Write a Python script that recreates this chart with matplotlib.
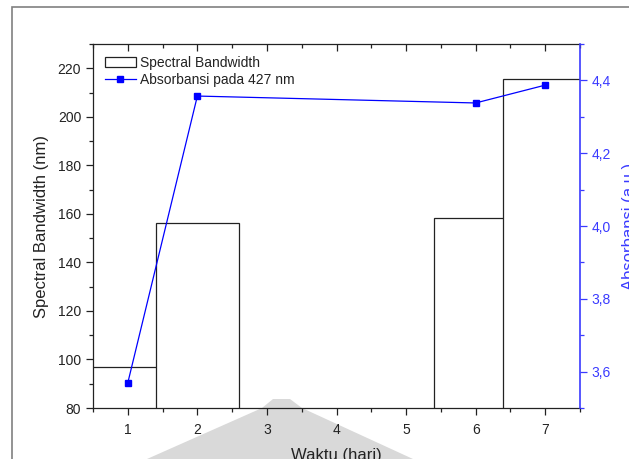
import matplotlib
matplotlib.use("Agg")
import matplotlib.pyplot as plt
from matplotlib.patches import Patch, Polygon, Rectangle
from matplotlib.lines import Line2D
from matplotlib.ticker import MultipleLocator, FuncFormatter

plt.rcParams['font.family'] = ['Liberation Sans', 'DejaVu Sans']

# Data
bar_days = [1, 2, 6, 7]
bandwidth = [97, 156.3, 158.4, 215.5]
abs_days = [1, 2, 6, 7]
absorbance = [3.569, 4.357, 4.338, 4.387]
x_ticks = [1, 2, 3, 4, 5, 6, 7]

W, H = 629, 459
fig = plt.figure(figsize=(W / 100, H / 100), dpi=100)

def fx(px):
    return px / W

def fy(py):
    return 1 - py / H

# outer frame
fig.add_artist(Rectangle((fx(12), fy(470)), fx(640) - fx(12), fy(7) - fy(470),
                         transform=fig.transFigure, fill=False,
                         edgecolor='#808080', linewidth=1.2, zorder=-2))
# faint watermark shape
wm = [(147, 459), (262, 408), (273, 399), (290, 399), (302, 408), (413, 459)]
fig.add_artist(Polygon([(fx(a), fy(b)) for a, b in wm], closed=True,
                       transform=fig.transFigure, facecolor='#d9d9d9',
                       edgecolor='none', zorder=-1))

ax = fig.add_axes([fx(93), fy(408), fx(580) - fx(93), fy(44) - fy(408)])
ax.set_facecolor('none')

dark = '#222222'
blue_ax = '#3a3aff'

ax.bar(bar_days, bandwidth, width=1.2, color='white', edgecolor=dark,
       linewidth=0.9, zorder=2)
ax.set_xlim(0.5, 7.5)
ax.set_ylim(80, 230)
ax.set_xticks(x_ticks)
ax.xaxis.set_minor_locator(MultipleLocator(0.5))
ax.yaxis.set_major_locator(MultipleLocator(20))
ax.yaxis.set_minor_locator(MultipleLocator(10))
ax.tick_params(axis='both', which='major', direction='out', length=5,
               width=0.9, color=dark, labelsize=10, labelcolor=dark)
ax.tick_params(axis='both', which='minor', direction='out', length=3,
               width=0.9, color=dark)
ax.tick_params(axis='x', pad=6)
for s in ['left', 'bottom', 'top']:
    ax.spines[s].set_color(dark)
    ax.spines[s].set_linewidth(0.9)
ax.spines['right'].set_visible(False)

sec = ax.secondary_xaxis('top')
sec.set_xticks(x_ticks)
sec.xaxis.set_minor_locator(MultipleLocator(0.5))
sec.tick_params(which='major', direction='in', length=5, width=0.9,
                color=dark, labeltop=False)
sec.tick_params(which='minor', direction='in', length=3, width=0.9,
                color=dark)
sec.spines['top'].set_visible(False)

ax.set_xlabel('Waktu (hari)', fontsize=12, color=dark, labelpad=8)
ax.set_ylabel('Spectral Bandwidth (nm)', fontsize=12, color=dark, labelpad=6)

ax2 = ax.twinx()
ax2.plot(abs_days, absorbance, color='#0000ff', linewidth=0.9, marker='s',
         markersize=4.5, zorder=3, clip_on=False)
ax2.set_ylim(3.5, 4.5)
ax2.yaxis.set_major_locator(MultipleLocator(0.2))
ax2.yaxis.set_minor_locator(MultipleLocator(0.1))
ax2.yaxis.set_major_formatter(FuncFormatter(lambda v, p: f'{v:.1f}'.replace('.', ',')))
ax2.tick_params(axis='y', which='major', direction='out', length=5, width=0.9,
                color=blue_ax, labelsize=10, labelcolor=blue_ax)
ax2.tick_params(axis='y', which='minor', direction='out', length=3, width=0.9,
                color=blue_ax)
for s in ['left', 'bottom', 'top']:
    ax2.spines[s].set_visible(False)
ax2.spines['right'].set_color(blue_ax)
ax2.spines['right'].set_linewidth(1.2)
ax2.set_ylabel('Absorbansi (a.u.)', fontsize=12, color=blue_ax, labelpad=8)

handles = [Patch(facecolor='white', edgecolor=dark, linewidth=0.9),
           Line2D([], [], color='#0000ff', linewidth=0.9, marker='s', markersize=4.5)]
labels = ['Spectral Bandwidth', 'Absorbansi pada 427 nm']
ax2.legend(handles, labels, loc='upper left', bbox_to_anchor=(fx(105), fy(56)),
           bbox_transform=fig.transFigure, frameon=False, fontsize=10,
           borderpad=0, borderaxespad=0, handlelength=2.2, handletextpad=0.3,
           labelspacing=0.22, labelcolor=dark)

fig.savefig('out.png', dpi=100)
